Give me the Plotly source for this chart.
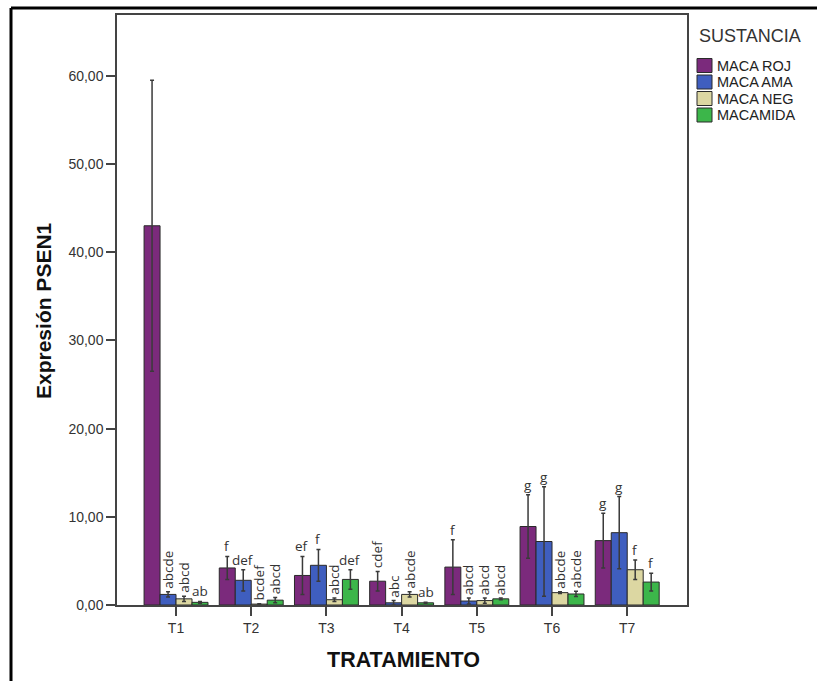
import plotly.graph_objects as go

# ---------------- data ----------------
tratamientos = ["T1", "T2", "T3", "T4", "T5", "T6", "T7"]
sustancias = ["MACA ROJ", "MACA AMA", "MACA NEG", "MACAMIDA"]

maca_roj = [43.0, 4.2, 3.35, 2.7, 4.3, 8.9, 7.3]
maca_roj_err = [16.5, 1.3, 2.15, 1.1, 3.1, 3.6, 3.1]
maca_ama = [1.2, 2.8, 4.5, 0.25, 0.45, 7.2, 8.2]
maca_ama_err = [0.3, 1.2, 1.8, 0.25, 0.35, 6.2, 4.1]
maca_neg = [0.7, 0.1, 0.6, 1.2, 0.5, 1.4, 4.0]
maca_neg_err = [0.3, 0.05, 0.2, 0.3, 0.3, 0.1, 1.1]
macamida = [0.3, 0.55, 2.9, 0.25, 0.7, 1.25, 2.6]
macamida_err = [0.1, 0.3, 1.1, 0.05, 0.1, 0.3, 1.0]

letras_roj = ["", "f", "ef", "cdef", "f", "g", "g"]
letras_ama = ["abcde", "def", "f", "abc", "abcd", "g", "g"]
letras_neg = ["abcd", "bcdef", "abcd", "abcde", "abcd", "abcde", "f"]
letras_mac = ["ab", "abcd", "def", "ab", "abcd", "abcde", "f"]

y_ticks = [0, 10, 20, 30, 40, 50, 60]
y_ticklabels = ["0,00", "10,00", "20,00", "30,00", "40,00", "50,00", "60,00"]

# ---------------- style ----------------
colors = ["#7b2a7c", "#3f5ebf", "#dcd7a2", "#3cb64a"]
rot_roj = [0, 0, 0, 1, 0, 0, 0]
rot_ama = [1, 0, 0, 1, 1, 0, 0]
rot_neg = [1, 1, 1, 1, 1, 1, 0]
rot_mac = [0, 1, 0, 0, 1, 1, 0]

W, H = 817, 681
L, R, T, B = 117, 687, 15, 605
BARGAP = 0.15


def px(x):
    return (x - L) / (R - L)


def py(y):
    return (B - y) / (B - T)


series = [
    (sustancias[0], maca_roj, maca_roj_err, letras_roj, rot_roj),
    (sustancias[1], maca_ama, maca_ama_err, letras_ama, rot_ama),
    (sustancias[2], maca_neg, maca_neg_err, letras_neg, rot_neg),
    (sustancias[3], macamida, macamida_err, letras_mac, rot_mac),
]

fig = go.Figure()
n = len(series)
bw = (1 - BARGAP) / n
for j, (name, vals, errs, letras, rots) in enumerate(series):
    fig.add_trace(go.Bar(
        x=tratamientos, y=vals, name=name, showlegend=False,
        marker=dict(color=colors[j], line=dict(color="#2a2a2a", width=1)),
        error_y=dict(type="data", array=errs, visible=True,
                     color="#3a3a3a", thickness=1.5, width=2),
    ))
    off = -(1 - BARGAP) / 2 + (j + 0.5) * bw
    for i, lab in enumerate(letras):
        if not lab:
            continue
        rot = bool(rots[i])
        fig.add_annotation(
            x=i + off, y=vals[i] + errs[i], xref="x", yref="y",
            text=lab, showarrow=False,
            textangle=-90 if rot else 0,
            xanchor="center", yanchor="bottom",
            yshift=1 if rot else -1,
            font=dict(family="Open Sans", size=13.5, color="#333333"),
        )

# legend (custom)
fig.add_annotation(x=px(697), y=py(36), xref="paper", yref="paper",
                   text="SUSTANCIA", showarrow=False, xanchor="left",
                   yanchor="middle",
                   font=dict(family="Liberation Sans", size=18, color="#333333"))
leg_y = [65.5, 82, 98.5, 115]
for j, name in enumerate(sustancias):
    yc = leg_y[j]
    fig.add_shape(type="rect", xref="paper", yref="paper",
                  x0=px(697), x1=px(712), y0=py(yc + 7), y1=py(yc - 7),
                  fillcolor=colors[j], line=dict(color="#2a2a2a", width=1))
    fig.add_annotation(x=px(715), y=py(yc), xref="paper", yref="paper",
                       text=name, showarrow=False, xanchor="left",
                       yanchor="middle",
                       font=dict(family="Liberation Sans", size=14.5,
                                 color="#222222"))

# axis titles
fig.add_annotation(x=px(43), y=py(311), xref="paper", yref="paper",
                   text="<b>Expresión PSEN1</b>", showarrow=False,
                   textangle=-90, xanchor="center", yanchor="middle",
                   font=dict(family="Liberation Sans", size=21, color="#111111"))
fig.add_annotation(x=px(403), y=py(660), xref="paper", yref="paper",
                   text="<b>TRATAMIENTO</b>", showarrow=False,
                   xanchor="center", yanchor="middle",
                   font=dict(family="Liberation Sans", size=21.5, color="#111111"))

# outer frame
fig.add_shape(type="line", xref="paper", yref="paper",
              x0=px(11), x1=px(830), y0=py(8), y1=py(8),
              line=dict(color="black", width=3))
fig.add_shape(type="line", xref="paper", yref="paper",
              x0=px(11), x1=px(11), y0=py(8), y1=py(700),
              line=dict(color="black", width=3))

fig.update_layout(
    width=W, height=H,
    margin=dict(l=L, r=W - R, t=T, b=H - B),
    barmode="group", bargap=BARGAP, bargroupgap=0,
    plot_bgcolor="white", paper_bgcolor="white",
    font=dict(family="Liberation Sans", size=14, color="#333333"),
    xaxis=dict(type="category", range=[-0.785, 6.795],
               showline=True, linecolor="#444444", linewidth=1.5, mirror=True,
               ticks="outside", ticklen=9, tickwidth=1.5, tickcolor="#444444",
               showgrid=False, tickfont=dict(size=14, color="#333333")),
    yaxis=dict(range=[0, 66.9], tickvals=y_ticks, ticktext=y_ticklabels,
               showline=True, linecolor="#444444", linewidth=1.5, mirror=True,
               ticks="outside", ticklen=9, tickwidth=1.5, tickcolor="#444444",
               showgrid=False, zeroline=False,
               tickfont=dict(size=14, color="#333333")),
)

fig.write_html("out.html")
